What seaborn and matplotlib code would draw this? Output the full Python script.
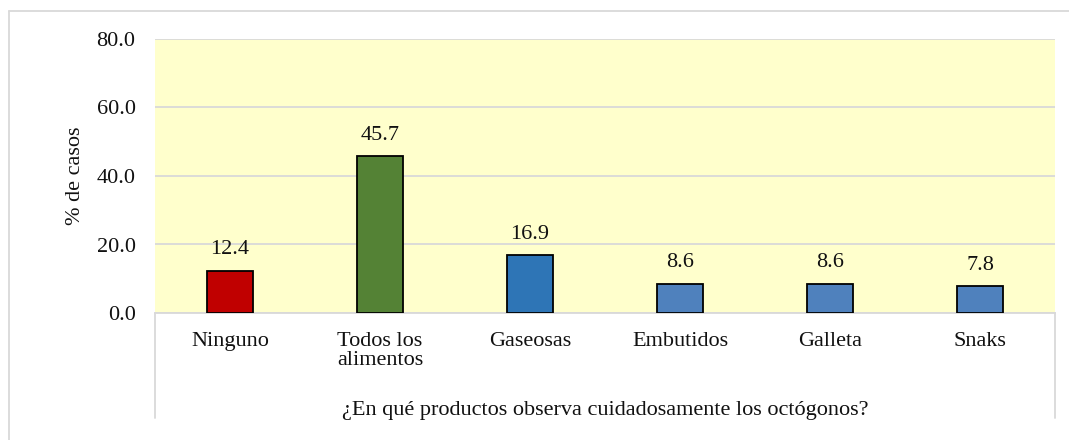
import matplotlib
matplotlib.use("Agg")
import matplotlib.pyplot as plt
import seaborn as sns
import pandas as pd
from matplotlib.lines import Line2D

categories = ["Ninguno", "Todos los\nalimentos", "Gaseosas", "Embutidos", "Galleta", "Snaks"]
values = [12.4, 45.7, 16.9, 8.6, 8.6, 7.8]
colors = ["#C00000", "#548235", "#2E75B6", "#4F81BD", "#4F81BD", "#4F81BD"]
yticks = [0, 20, 40, 60, 80]
xlabel = "¿En qué productos observa cuidadosamente los octógonos?"
ylabel = "% de casos"

sns.set_theme(style="white")
plt.rcParams["font.family"] = ["Liberation Serif", "DejaVu Serif"]

FS = 16
W, H = 1069, 440
fig = plt.figure(figsize=(W / 100, H / 100), dpi=100)
fig.patch.set_facecolor("white")
L, R, T, B = 155, 1055, 39, 313
ax = fig.add_axes([L / W, 1 - B / H, (R - L) / W, (B - T) / H])
ax.set_facecolor("#FFFFCC")

df = pd.DataFrame({"cat": categories, "val": values})
sns.barplot(data=df, x="cat", y="val", hue="cat", palette=colors, legend=False,
            width=0.31, edgecolor="black", linewidth=1.3, saturation=1, ax=ax, zorder=3)

for c in ax.containers:
    ax.bar_label(c, fmt="%.1f", padding=8, fontsize=FS, color="#111111")

ax.set_ylim(0, 80)
ax.set_yticks(yticks)
ax.set_yticklabels([f"{v:.1f}" for v in yticks])
ax.set_xlim(-0.5, len(categories) - 0.5)
ax.grid(axis="y", color="#D9D9D9", linewidth=1.3, zorder=0)
ax.set_axisbelow(True)
for s in ["top", "right", "left"]:
    ax.spines[s].set_visible(False)
ax.spines["bottom"].set_color("#D9D9D9")
ax.spines["bottom"].set_linewidth(1.3)
ax.tick_params(axis="y", length=0, pad=14, labelsize=FS, labelcolor="#111111")
ax.tick_params(axis="x", length=0, pad=14, labelsize=FS, labelcolor="#111111")
for lbl in ax.get_xticklabels():
    lbl.set_verticalalignment("top")
    lbl.set_horizontalalignment("center")
    lbl.set_multialignment("left")
    lbl.set_linespacing(1.0)
ax.set_xlabel(xlabel, fontsize=FS, labelpad=22, color="#111111")
ax.set_ylabel(ylabel, fontsize=FS, labelpad=8, color="#111111")

# category-area side lines
depth = (418 - B) / (B - T)
for xx in (0, 1):
    ax.plot([xx, xx], [0, -depth], transform=ax.transAxes, color="#D9D9D9",
            linewidth=1.3, clip_on=False)

# outer frame (partially visible)
ty = 1 - 11 / H
lx = 9 / W
fig.add_artist(Line2D([lx, 1], [ty, ty], transform=fig.transFigure, color="#D9D9D9", linewidth=1.3))
fig.add_artist(Line2D([lx, lx], [0, ty], transform=fig.transFigure, color="#D9D9D9", linewidth=1.3))

fig.savefig("out.png", dpi=100, facecolor="white")
